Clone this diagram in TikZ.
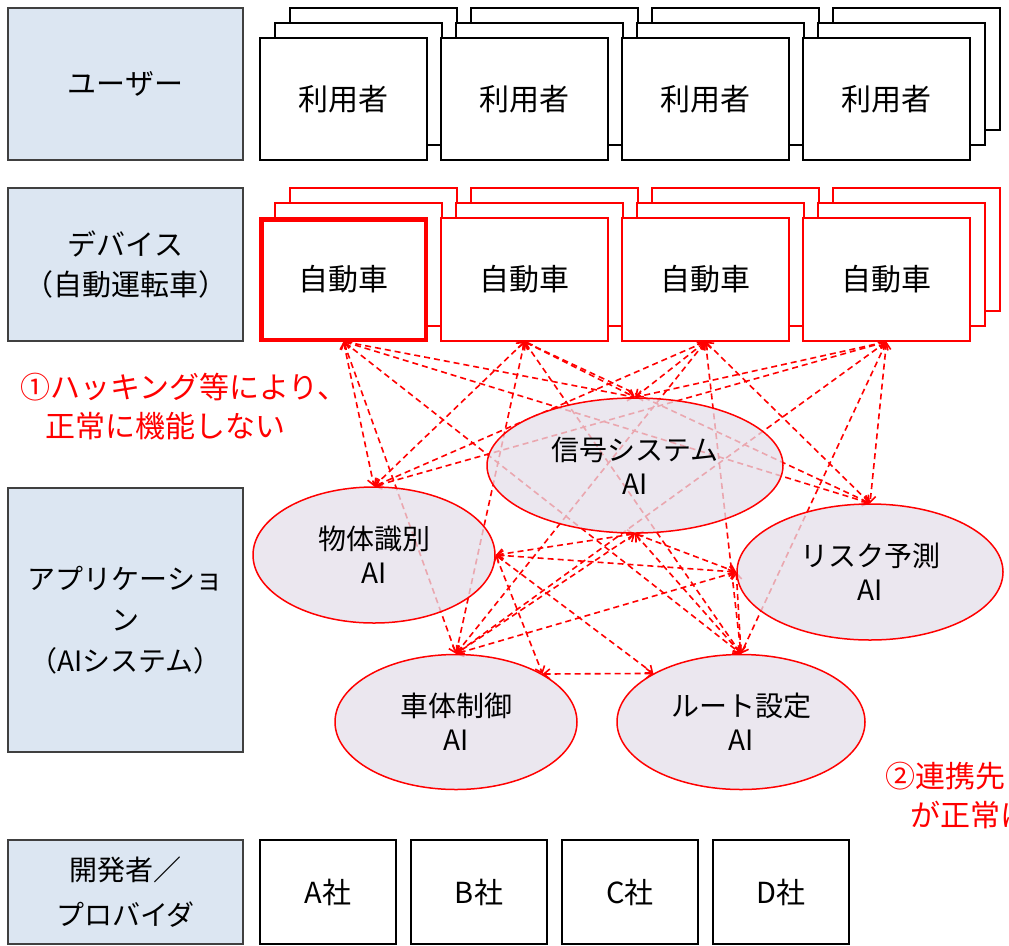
\documentclass[tikz,border=0pt]{standalone}
\usepackage{fontspec}
\setmainfont{Noto Sans CJK JP}
\usetikzlibrary{arrows.meta,shapes.geometric}
\pgfdeclarelayer{bg}
\pgfsetlayers{bg,main}
\definecolor{lblue}{RGB}{220,230,242}
\definecolor{aifill}{RGB}{228,223,234}
\definecolor{pred}{RGB}{255,0,0}
\tikzset{
  labelbox/.style={draw=black!75,line width=1.5pt,fill=lblue,minimum width=235pt,
    align=center,inner sep=0,font=\fontsize{29}{40}\selectfont},
  userbox/.style={draw=black,line width=1.5pt,fill=white,minimum width=167pt,
    minimum height=122pt,inner sep=0,font=\fontsize{30}{36}\selectfont},
  carbox/.style={userbox,draw=pred,minimum height=123pt},
  devbox/.style={draw=black,line width=1.5pt,fill=white,minimum width=136pt,
    minimum height=104pt,inner sep=0,font=\fontsize{29}{36}\selectfont},
  aiell/.style={ellipse,draw=pred,line width=1.5pt,fill=aifill,fill opacity=0.75,
    text opacity=1,inner sep=0,align=center,font=\fontsize{28}{34}\selectfont},
  link/.style={pred,line width=1.6pt,dash pattern=on 6pt off 4pt,
    {Straight Barb[length=6pt,width=10pt]}-{Straight Barb[length=6pt,width=10pt]}},
  note/.style={pred,align=left,inner sep=0,anchor=west,font=\fontsize{30}{39}\selectfont}
}
\begin{document}
\begin{tikzpicture}[x=1pt,y=-1pt]
  \clip (0,0) rectangle (1009,945);
  \useasboundingbox (0,0) rectangle (1009,945);
  % layer labels
  \node[labelbox,minimum height=152pt] (lab1) at (125.5,84) {ユーザー};
  \node[labelbox,minimum height=153pt] (lab2) at (125.5,264.5) {デバイス\\（自動運転車）};
  \node[labelbox,minimum height=264pt,font=\fontsize{28}{41}\selectfont] (lab3) at (125.5,620) {アプリケーショ\\ン\\（AIシステム）};
  \node[labelbox,minimum height=104pt,font=\fontsize{28}{45}\selectfont] (lab4) at (125.5,892) {開発者／\\プロバイダ};
  % users and cars, three deep
  \foreach \i in {1,...,4}{
    \pgfmathsetmacro{\cx}{343.5+181*(\i-1)}
    \node[userbox] (user\i c) at (\cx+30,69) {};
    \node[userbox] (user\i b) at (\cx+15,84) {};
    \node[userbox] (user\i) at (\cx,99) {利用者};
    \node[carbox] (car\i c) at (\cx+30,249.5) {};
    \node[carbox] (car\i b) at (\cx+15,264.5) {};
    \node[carbox] (car\i) at (\cx,279.5) {自動車};
  }
  \node[carbox,line width=4pt,minimum width=164pt,minimum height=120pt] (car1) at (343.5,279.5) {自動車};
  % AI systems
  \node[aiell,minimum width=242pt,minimum height=136pt] (obj) at (374,555) {物体識別\\AI};
  \node[aiell,minimum width=296pt,minimum height=135pt] (sig) at (635,465.5) {信号システム\\AI};
  \node[aiell,minimum width=266pt,minimum height=136pt] (risk) at (870,572) {リスク予測\\AI};
  \node[aiell,minimum width=242pt,minimum height=135pt] (body) at (456,722) {車体制御\\AI};
  \node[aiell,minimum width=248pt,minimum height=135pt] (route) at (741,722) {ルート設定\\AI};
  \begin{pgfonlayer}{bg}
    \foreach \c in {1,...,4}
      \foreach \a in {obj,sig,risk,body,route}
        \draw[link] (car\c.south) -- (\a.north);
    \foreach \p/\q in {obj.east/sig.south,obj.east/risk.west,obj.east/body.29,
        obj.east/route.151,sig.south/body.north,sig.south/route.north,
        sig.south/risk.west,risk.west/body.north,risk.west/route.north,body.29/route.151}
      \draw[link] (\p) -- (\q);
  \end{pgfonlayer}
  % developers
  \foreach \n [count=\i] in {A,B,C,D}
    \node[devbox] (dev\i) at (328+151*\i-151,892) {\n 社};
  % notes
  \node[note] (note1) at (20,407) {①ハッキング等により、\\\hspace*{25pt}正常に機能しない};
  \node[note] (note2) at (885,795) {②連携先\\\hspace*{25pt}が正常に};
\end{tikzpicture}
\end{document}
